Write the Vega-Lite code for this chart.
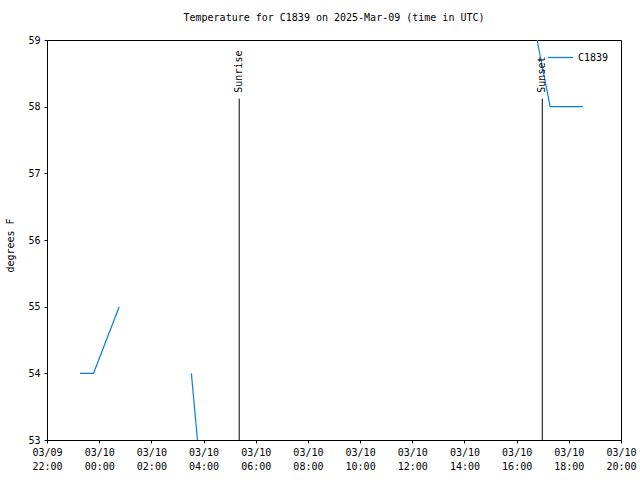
{
  "$schema": "https://vega.github.io/schema/vega-lite/v6.json",
  "width": 574,
  "height": 400,
  "autosize": {"type": "none"},
  "padding": {"left": 47, "top": 40, "right": 19, "bottom": 40},
  "background": "white",
  "title": {
    "text": "Temperature for C1839 on 2025-Mar-09 (time in UTC)",
    "font": "DejaVu Sans Mono",
    "fontSize": 10,
    "fontWeight": "normal",
    "color": "black",
    "anchor": "middle",
    "offset": 12
  },
  "config": {
    "view": {"stroke": "black", "strokeWidth": 1},
    "axis": {"grid": false, "domain": false, "tickColor": "black", "labelColor": "black", "titleColor": "black", "labelFont": "DejaVu Sans Mono", "titleFont": "DejaVu Sans Mono", "labelFontSize": 10, "titleFontSize": 10, "titleFontWeight": "normal"}
  },
  "data": {
    "values": [
      {"time": "2025-03-09T23:16:00Z", "temp": 54, "seg": "a", "station": "C1839"},
      {"time": "2025-03-09T23:47:00Z", "temp": 54, "seg": "a", "station": "C1839"},
      {"time": "2025-03-10T00:46:00Z", "temp": 55, "seg": "a", "station": "C1839"},
      {"time": "2025-03-10T03:32:00Z", "temp": 54, "seg": "b", "station": "C1839"},
      {"time": "2025-03-10T03:46:00Z", "temp": 53, "seg": "b", "station": "C1839"},
      {"time": "2025-03-10T16:47:00Z", "temp": 59, "seg": "c", "station": "C1839"},
      {"time": "2025-03-10T17:17:00Z", "temp": 58, "seg": "c", "station": "C1839"},
      {"time": "2025-03-10T18:33:00Z", "temp": 58, "seg": "c", "station": "C1839"},
      {"event": "Sunrise", "time": "2025-03-10T05:22:00Z", "top": 58.12, "base": 53},
      {"event": "Sunset", "time": "2025-03-10T16:59:00Z", "top": 58.12, "base": 53}
    ]
  },
  "encoding": {
    "x": {
      "field": "time", "type": "temporal",
      "scale": {"type": "utc", "domain": [{"year": 2025, "month": 3, "date": 9, "hours": 22, "utc": true}, {"year": 2025, "month": 3, "date": 10, "hours": 20, "utc": true}], "nice": false},
      "axis": {
        "orient": "bottom", "title": null, "tickSize": 3,
        "values": [
          {"year": 2025, "month": 3, "date": 9, "hours": 22, "utc": true},
          {"year": 2025, "month": 3, "date": 10, "hours": 0, "utc": true},
          {"year": 2025, "month": 3, "date": 10, "hours": 2, "utc": true},
          {"year": 2025, "month": 3, "date": 10, "hours": 4, "utc": true},
          {"year": 2025, "month": 3, "date": 10, "hours": 6, "utc": true},
          {"year": 2025, "month": 3, "date": 10, "hours": 8, "utc": true},
          {"year": 2025, "month": 3, "date": 10, "hours": 10, "utc": true},
          {"year": 2025, "month": 3, "date": 10, "hours": 12, "utc": true},
          {"year": 2025, "month": 3, "date": 10, "hours": 14, "utc": true},
          {"year": 2025, "month": 3, "date": 10, "hours": 16, "utc": true},
          {"year": 2025, "month": 3, "date": 10, "hours": 18, "utc": true},
          {"year": 2025, "month": 3, "date": 10, "hours": 20, "utc": true}
        ],
        "labelExpr": "[utcFormat(datum.value, '%m/%d'), utcFormat(datum.value, '%H:%M')]",
        "labelLineHeight": 14, "labelPadding": 4, "labelOverlap": false, "labelFlush": false
      }
    }
  },
  "layer": [
    {
      "transform": [{"filter": "isValid(datum.temp)"}],
      "mark": {"type": "line", "strokeWidth": 1.2, "clip": true},
      "encoding": {
        "y": {
          "field": "temp", "type": "quantitative",
          "scale": {"domain": [53, 59], "nice": false, "zero": false},
          "axis": {
            "orient": "left", "tickSize": 3, "values": [53, 54, 55, 56, 57, 58, 59], "format": "d",
            "labelPadding": 4, "title": "degrees F", "titleAngle": 270,
            "titleX": -37, "titleY": 205, "titleAlign": "center", "titleBaseline": "middle"
          }
        },
        "detail": {"field": "seg", "type": "nominal"},
        "color": {
          "field": "station", "type": "nominal",
          "scale": {"range": ["#0a7cf0"]},
          "legend": {
            "orient": "none", "legendX": 500, "legendY": 4, "title": null,
            "symbolType": "stroke", "symbolSize": 625, "symbolStrokeWidth": 1.3,
            "labelFont": "DejaVu Sans Mono", "labelFontSize": 10, "labelColor": "black"
          }
        }
      }
    },
    {
      "transform": [{"filter": "isValid(datum.event)"}],
      "mark": {"type": "rule", "color": "black", "strokeWidth": 1},
      "encoding": {
        "y": {"field": "top", "type": "quantitative"},
        "y2": {"field": "base"}
      }
    },
    {
      "transform": [{"filter": "isValid(datum.event)"}],
      "mark": {"type": "text", "angle": 270, "align": "left", "baseline": "middle", "dx": 6, "font": "DejaVu Sans Mono", "fontSize": 10, "color": "black"},
      "encoding": {
        "y": {"field": "top", "type": "quantitative"},
        "text": {"field": "event", "type": "nominal"}
      }
    }
  ]
}
